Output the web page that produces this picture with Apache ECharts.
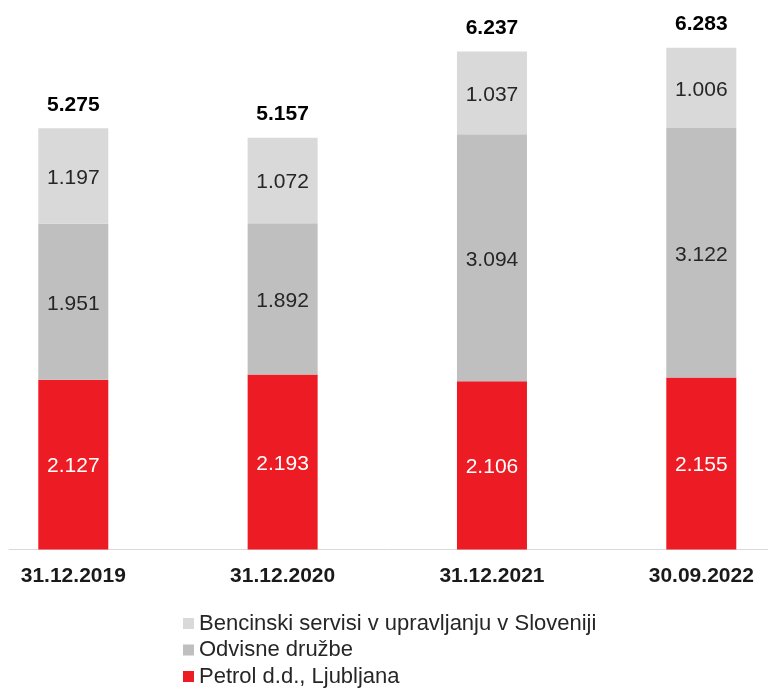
<!DOCTYPE html>
<html>
<head>
<meta charset="utf-8">
<script src="https://cdn.jsdelivr.net/npm/echarts@6/dist/echarts.min.js"></script>
<style>
  html, body { margin: 0; padding: 0; background: #fff; }
  #chart { width: 768px; height: 689px; }
</style>
</head>
<body>
<div id="chart"></div>
<script>
var categories = ["31.12.2019", "31.12.2020", "31.12.2021", "30.09.2022"];
var petrol = [2127, 2193, 2106, 2155];
var odvisne = [1951, 1892, 3094, 3122];
var bencinski = [1197, 1072, 1037, 1006];
var totals = [5275, 5157, 6237, 6283];

var seriesNames = ["Bencinski servisi v upravljanju v Sloveniji", "Odvisne družbe", "Petrol d.d., Ljubljana"];

// slovenian thousands separator
function fmt(v){
  return String(v).replace(/\B(?=(\d{3})+(?!\d))/g, ".");
}

var font = "Liberation Sans, Arial, sans-serif";

var myChart = echarts.init(document.getElementById('chart'));

var option = {
  animation: false,
  grid: [
    // bars sit on the ticks (boundaryGap false), so grid edges = first/last bar centre
    {left: 73.3, right: 66.7, top: 6.5, bottom: 139.5},
    // just for the baseline, which runs nearly the full width
    {left: 9, right: 0, top: 6.5, bottom: 139.5}
  ],
  legend: {
    orient: 'vertical',
    left: 183,
    top: 612.5,
    height: 90,
    padding: 0,
    itemWidth: 11,
    itemHeight: 11,
    itemGap: 4.5,
    icon: 'rect',
    data: seriesNames,
    textStyle: {fontFamily: font, fontSize: 22, color: '#262626'}
  },
  xAxis: [
    {
      type: 'category',
      data: categories,
      gridIndex: 0,
      boundaryGap: false,
      axisLine: {show: false},
      axisTick: {show: false},
      axisLabel: {margin: 16, fontFamily: font, fontSize: 21, fontWeight: 'bold', color: '#1a1a1a'}
    },
    {
      type: 'value',
      gridIndex: 1,
      min: 0,
      max: 1,
      axisLine: {show: true, lineStyle: {color: '#d9d9d9', width: 1}},
      axisTick: {show: false},
      axisLabel: {show: false},
      splitLine: {show: false}
    }
  ],
  yAxis: [
    {type: 'value', gridIndex: 0, min: 0, max: 6800, show: false},
    {type: 'value', gridIndex: 1, min: 0, max: 1, show: false}
  ],
  series: [
    {
      name: seriesNames[2],
      type: 'bar',
      stack: 'total',
      barWidth: 70,
      data: petrol,
      itemStyle: {color: '#ed1c24'},
      label: {show: true, position: 'inside', offset: [0, 2], fontFamily: font, fontSize: 21, color: '#ffffff',
        formatter: function(p){ return fmt(p.value); }}
    },
    {
      name: seriesNames[1],
      type: 'bar',
      stack: 'total',
      barWidth: 70,
      data: odvisne,
      itemStyle: {color: '#bfbfbf'},
      label: {show: true, position: 'inside', offset: [0, 2], fontFamily: font, fontSize: 21, color: '#262626',
        formatter: function(p){ return fmt(p.value); }}
    },
    {
      name: seriesNames[0],
      type: 'bar',
      stack: 'total',
      barWidth: 70,
      data: bencinski,
      itemStyle: {color: '#d9d9d9'},
      label: {show: true, position: 'inside', offset: [0, 2], fontFamily: font, fontSize: 21, color: '#262626',
        formatter: function(p){ return fmt(p.value); }}
    },
    {
      //totals on top, invisible bar behind the stack
      name: 'Skupaj',
      type: 'bar',
      barWidth: 70,
      barGap: '-100%',
      z: 1,
      data: totals,
      itemStyle: {color: 'rgba(0,0,0,0)'},
      label: {show: true, position: 'top', distance: 13, fontFamily: font, fontSize: 21, fontWeight: 'bold', color: '#000000',
        formatter: function(p){ return fmt(p.value); }}
    }
  ]
};

myChart.setOption(option);
</script>
</body>
</html>
